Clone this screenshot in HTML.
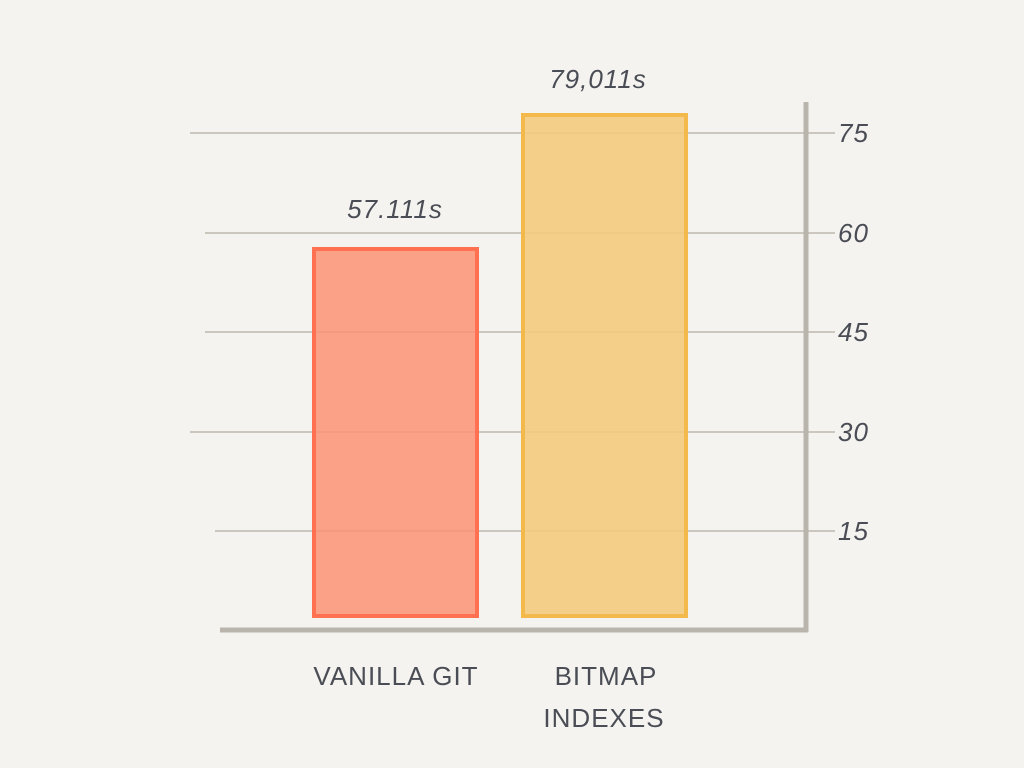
<!DOCTYPE html>
<html><head><meta charset="utf-8"><style>
body{margin:0;width:1024px;height:768px;background:#f4f3ef;overflow:hidden;}
svg{display:block}
text{font-family:"Liberation Sans",sans-serif;fill:#4a4d55;}
</style></head><body>
<svg width="1024" height="768" viewBox="0 0 1024 768">
<g stroke="#bdb8ae" stroke-width="1.5">
<line x1="190" y1="133" x2="835" y2="133"/>
<line x1="205" y1="233" x2="835" y2="233"/>
<line x1="205" y1="332" x2="835" y2="332"/>
<line x1="190" y1="432" x2="835" y2="432"/>
<line x1="215" y1="531" x2="835" y2="531"/>
</g>
<rect x="314" y="249" width="163" height="367" fill="#fc9275" fill-opacity="0.85" stroke="#ff7150" stroke-width="4"/>
<rect x="523" y="115" width="163" height="501" fill="#f2c97c" fill-opacity="0.88" stroke="#f3b94a" stroke-width="4"/>
<g stroke="#bab5ac" stroke-width="5" fill="none">
<line x1="220" y1="630" x2="808" y2="630"/>
<line x1="806" y1="102" x2="806" y2="632"/>
</g>
<g font-size="26" font-style="italic" letter-spacing="1">
<text x="838" y="142">75</text>
<text x="838" y="242">60</text>
<text x="838" y="341">45</text>
<text x="838" y="441">30</text>
<text x="838" y="540">15</text>
<text x="395" y="218" text-anchor="middle">57.111s</text>
<text x="598" y="88" text-anchor="middle">79,011s</text>
</g>
<g font-size="26" letter-spacing="1" text-anchor="middle">
<text x="396" y="685">VANILLA GIT</text>
<text x="606" y="685">BITMAP</text>
<text x="604" y="727">INDEXES</text>
</g>
</svg>
</body></html>
